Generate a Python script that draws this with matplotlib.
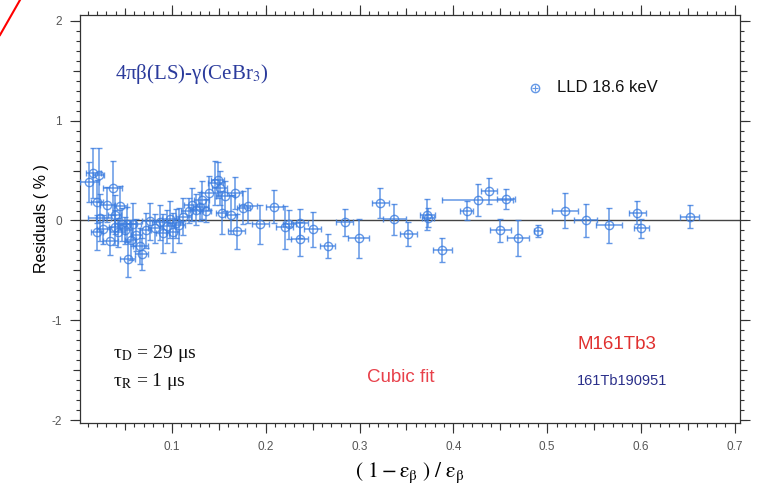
import matplotlib.pyplot as plt
from matplotlib.ticker import MultipleLocator, NullFormatter
import numpy as np

plt.rcParams['mathtext.fontset'] = 'stix'
plt.rcParams['axes.unicode_minus'] = False

# residual points
x = [0.012, 0.016, 0.020, 0.020, 0.023, 0.022, 0.027, 0.031, 0.034, 0.037,
     0.039, 0.039, 0.042, 0.045, 0.047, 0.050, 0.052, 0.053, 0.056, 0.059,
     0.062, 0.066, 0.068, 0.072, 0.077, 0.082, 0.087, 0.090, 0.095, 0.098,
     0.101, 0.104, 0.108, 0.112, 0.118, 0.121, 0.126, 0.130, 0.132, 0.136,
     0.140, 0.146, 0.149, 0.151, 0.153, 0.157, 0.163, 0.167, 0.169, 0.176,
     0.181, 0.194, 0.209, 0.220, 0.225, 0.236, 0.236, 0.250, 0.266, 0.284,
     0.299, 0.322, 0.337, 0.352, 0.372, 0.373, 0.388, 0.414, 0.426, 0.438,
     0.450, 0.456, 0.469, 0.490, 0.519, 0.541, 0.566, 0.596, 0.600, 0.652]
y = [0.39, 0.48, 0.19, -0.12, 0.03, 0.46, -0.09, 0.16, -0.21, 0.33,
     0.06, -0.07, -0.12, 0.15, -0.04, -0.10, -0.04, -0.39, -0.20, -0.04,
     -0.15, -0.26, -0.34, -0.10, -0.01, -0.08, -0.02, -0.13, -0.06, 0.01,
     -0.12, -0.03, -0.05, 0.04, 0.10, 0.16, 0.11, 0.14, 0.21, 0.10,
     0.28, 0.38, 0.41, 0.33, 0.08, 0.25, 0.06, 0.28, -0.11, 0.13,
     0.15, -0.04, 0.14, -0.07, -0.04, -0.03, -0.19, -0.09, -0.26, -0.02,
     -0.18, 0.18, 0.01, -0.14, 0.06, 0.03, -0.30, 0.10, 0.21, 0.30,
     -0.10, 0.22, -0.18, -0.11, 0.10, 0.00, -0.05, 0.08, -0.08, 0.04]
xerr = [0.010, 0.008, 0.006, 0.006, 0.012, 0.006, 0.007, 0.008, 0.008, 0.010,
        0.007, 0.006, 0.008, 0.007, 0.008, 0.007, 0.010, 0.008, 0.006, 0.008,
        0.006, 0.008, 0.007, 0.006, 0.009, 0.008, 0.008, 0.007, 0.008, 0.009,
        0.007, 0.008, 0.006, 0.008, 0.008, 0.008, 0.007, 0.008, 0.008, 0.006,
        0.009, 0.008, 0.007, 0.008, 0.006, 0.010, 0.006, 0.008, 0.009, 0.007,
        0.010, 0.009, 0.009, 0.009, 0.007, 0.009, 0.009, 0.009, 0.008, 0.009,
        0.011, 0.009, 0.012, 0.009, 0.008, 0.006, 0.010, 0.007, 0.038, 0.009,
        0.011, 0.010, 0.012, 0.004, 0.014, 0.012, 0.014, 0.009, 0.008, 0.010]
yerr = [0.20, 0.25, 0.22, 0.18, 0.24, 0.27, 0.15, 0.18, 0.14, 0.27,
        0.20, 0.18, 0.15, 0.20, 0.17, 0.14, 0.18, 0.18, 0.20, 0.22,
        0.16, 0.18, 0.16, 0.18, 0.19, 0.15, 0.18, 0.20, 0.17, 0.19,
        0.20, 0.15, 0.18, 0.19, 0.13, 0.17, 0.16, 0.15, 0.19, 0.12,
        0.17, 0.22, 0.18, 0.17, 0.22, 0.15, 0.20, 0.16, 0.18, 0.17,
        0.18, 0.20, 0.17, 0.22, 0.15, 0.15, 0.17, 0.18, 0.12, 0.14,
        0.20, 0.15, 0.16, 0.12, 0.16, 0.10, 0.12, 0.10, 0.16, 0.13,
        0.12, 0.10, 0.18, 0.06, 0.18, 0.17, 0.18, 0.12, 0.10, 0.12]

fig = plt.figure(figsize=(7.57, 4.90), dpi=100)
ax = fig.add_axes([80 / 757, 67 / 490, 660 / 757, 408 / 490])

blue = '#3d7ee0'
ax.errorbar(x, y, xerr=xerr, yerr=yerr, fmt='o', ms=6, mfc='none', mec=blue,
            mew=1.0, ecolor=blue, elinewidth=1.1, capsize=2.5, capthick=1.1,
            alpha=0.8, zorder=3)
ax.axhline(0, color='#444444', lw=1.0, zorder=2)

ax.set_xlim(0.002, 0.7055)
ax.set_ylim(-2.03, 2.06)

# ticks: major labelled, minor small, and medium ones drawn by secondary axes
ax.xaxis.set_major_locator(MultipleLocator(0.1))
ax.xaxis.set_minor_locator(MultipleLocator(0.01))
ax.yaxis.set_major_locator(MultipleLocator(1))
ax.yaxis.set_minor_locator(MultipleLocator(0.1))
ax.tick_params(which='both', direction='out', top=True, right=True,
               color='#333333', width=0.8)
ax.tick_params(which='major', length=7, labelsize=8.5, labelcolor='#555555', pad=6)
ax.tick_params(which='minor', length=3)
for lab in ax.get_xticklabels() + ax.get_yticklabels():
    lab.set_family('Liberation Sans')
for s in ax.spines.values():
    s.set_color('#333333')
    s.set_linewidth(0.9)

for side in ['bottom', 'top']:
    sx = ax.secondary_xaxis(side)
    sx.xaxis.set_major_locator(MultipleLocator(0.05))
    sx.xaxis.set_major_formatter(NullFormatter())
    sx.tick_params(length=5, direction='out', color='#333333', width=0.8)
    sx.spines[side].set_visible(False)
for side in ['left', 'right']:
    sy = ax.secondary_yaxis(side)
    sy.yaxis.set_major_locator(MultipleLocator(0.5))
    sy.yaxis.set_major_formatter(NullFormatter())
    sy.tick_params(length=5, direction='out', color='#333333', width=0.8)
    sy.spines[side].set_visible(False)

ax.set_ylabel('Residuals ( % )', fontsize=11.5, family='Liberation Sans', labelpad=2)
ax.set_xlabel(r'$(\ 1-\mathrm{\varepsilon}_{\mathrm{\beta}}\ )\ /\ \mathrm{\varepsilon}_{\mathrm{\beta}}$',
              fontsize=15.5, labelpad=5)

serif = 'Liberation Serif'
ax.text(0.0393, 1.47, r'4πβ(LS)-γ(CeBr$_3$)', family=serif, fontsize=15,
        color='#2b3b9c', va='center')
ax.plot([0.487], [1.33], 'o', ms=6, mfc='none', mec=blue, mew=1.0, alpha=0.8)
ax.plot([0.487], [1.33], '+', ms=4, mec=blue, mew=0.8, alpha=0.8)
ax.text(0.5105, 1.33, 'LLD 18.6 keV', family='Liberation Sans', fontsize=12,
        color='#111111', va='center')
ax.text(0.037, -1.33, r'τ$_\mathrm{D}$ = 29 μs', family=serif, fontsize=14,
        color='#111111', va='center')
ax.text(0.037, -1.61, r'τ$_\mathrm{R}$ = 1 μs', family=serif, fontsize=14,
        color='#111111', va='center')
ax.text(0.308, -1.57, 'Cubic fit', family='Liberation Sans', fontsize=13.5,
        color='#e8404a', va='center')
ax.text(0.532, -1.245, 'M161Tb3', family='Liberation Sans', fontsize=13.5,
        color='#e0302f', va='center')
ax.text(0.532, -1.61, '161Tb190951', family='Liberation Sans', fontsize=10.5,
        color='#2a2f8a', va='center')

# stray red stroke in the top-left corner
fig.add_artist(plt.Line2D([0, 20 / 757], [1 - 35 / 490, 1], color='red', lw=1.5))

fig.savefig('out.png', dpi=100)
